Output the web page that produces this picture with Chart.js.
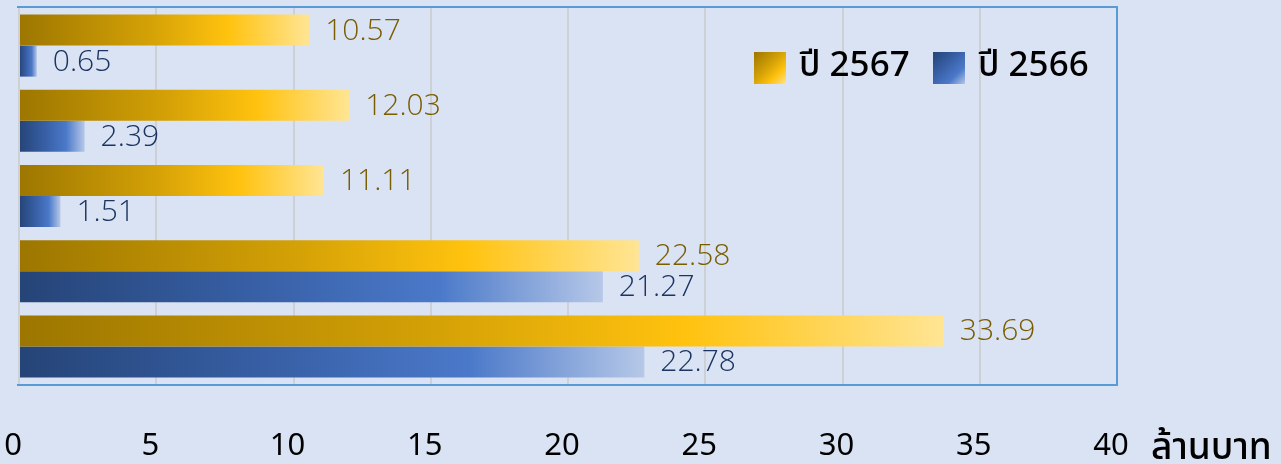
<!DOCTYPE html>
<html>
<head>
<meta charset="utf-8">
<script src="https://cdn.jsdelivr.net/npm/chart.js@4"></script>
<style>
  html, body { margin: 0; padding: 0; background: #dae3f3; }
  #wrap { position: relative; width: 1281px; height: 464px; }
</style>
</head>
<body>
<div id="wrap"><canvas id="myChart" width="1281" height="464"></canvas></div>
<script>
// Data (top category first)
const categories = ['รายการ 1', 'รายการ 2', 'รายการ 3', 'รายการ 4', 'รายการ 5'];
const year2567 = [10.57, 12.03, 11.11, 22.58, 33.69];
const year2566 = [0.65, 2.39, 1.51, 21.27, 22.78];
const seriesNames = ['ปี 2567', 'ปี 2566'];
const xTicks = [0, 5, 10, 15, 20, 25, 30, 35, 40];
const unitLabel = 'ล้านบาท';

const thaiFont = '"Noto Sans Thai", "Noto Sans", "Open Sans", sans-serif';

// colour stops for the bar gradients
const goldStops = [[0, '#9c7600'], [0.45, '#d4a106'], [0.72, '#ffc20e'], [1, '#ffe594']];
const blueStops = [[0, '#254477'], [0.45, '#3a63ab'], [0.72, '#4b79c9'], [1, '#b6c8e8']];

function barGradient(stops, fallback) {
    return (context) => {
        const chart = context.chart;
        const scale = chart.scales.x;
        if (!chart.chartArea || !scale || context.raw === undefined) return fallback;
        const x0 = scale.getPixelForValue(0);
        const x1 = scale.getPixelForValue(context.raw);
        if (x1 - x0 < 1) return fallback;
        const g = chart.ctx.createLinearGradient(x0, 0, x1, 0);
        stops.forEach(([p, c]) => g.addColorStop(p, c));
        return g;
    };
}

// value labels to the right of each bar
const valueLabels = {
    id: 'valueLabels',
    afterDatasetsDraw(chart) {
        const ctx = chart.ctx;
        const colors = ['#7a5c00', '#1b3461'];
        ctx.save();
        ctx.font = '300 30px "Open Sans", sans-serif';
        ctx.textBaseline = 'middle';
        ctx.textAlign = 'left';
        chart.data.datasets.forEach((ds, i) => {
            const meta = chart.getDatasetMeta(i);
            ctx.fillStyle = colors[i];
            meta.data.forEach((bar, j) => {
                ctx.fillText(ds.data[j].toFixed(2), bar.x + 16, bar.y + 1);
            });
        });
        ctx.restore();
    }
};

// plot frame, legend inside the plot and the unit label
const frameAndLegend = {
    id: 'frameAndLegend',
    afterDraw(chart) {
        const ctx = chart.ctx;
        const a = chart.chartArea;
        ctx.save();
        ctx.strokeStyle = '#5b9bd5';
        ctx.lineWidth = 2;
        ctx.beginPath();
        ctx.moveTo(a.left - 2, a.top - 1);
        ctx.lineTo(a.right, a.top - 1);
        ctx.lineTo(a.right, a.bottom + 1);
        ctx.lineTo(a.left - 2, a.bottom + 1);
        ctx.stroke();

        // legend
        const items = [
            { name: seriesNames[0], stops: goldStops, x: 754 },
            { name: seriesNames[1], stops: blueStops, x: 933 }
        ];
        ctx.font = '500 35px ' + thaiFont;
        ctx.textBaseline = 'alphabetic';
        ctx.textAlign = 'left';
        items.forEach((it) => {
            const y = 52, s = 32;
            const g = ctx.createLinearGradient(it.x, y, it.x + s, y + s);
            it.stops.forEach(([p, c]) => g.addColorStop(p, c));
            ctx.fillStyle = g;
            ctx.fillRect(it.x, y, s, s);
            ctx.fillStyle = '#000000';
            ctx.fillText(it.name, it.x + 45, 76);
        });

        // unit label
        ctx.font = '500 37px ' + thaiFont;
        ctx.fillStyle = '#000000';
        ctx.fillText(unitLabel, 1151, 459);
        ctx.restore();
    }
};

const ctx = document.getElementById('myChart').getContext('2d');
const myChart = new Chart(ctx, {
    type: 'bar',
    data: {
        labels: categories,
        datasets: [
            {
                label: seriesNames[0],
                data: year2567,
                backgroundColor: barGradient(goldStops, '#ffc000'),
                borderWidth: 0
            },
            {
                label: seriesNames[1],
                data: year2566,
                backgroundColor: barGradient(blueStops, '#4472c4'),
                borderWidth: 0
            }
        ]
    },
    options: {
        indexAxis: 'y',
        responsive: false,
        animation: false,
        layout: { padding: { left: 19, right: 164, top: 8, bottom: 0 } },
        datasets: {
            bar: { categoryPercentage: 0.825, barPercentage: 1 }
        },
        plugins: {
            legend: { display: false },
            tooltip: { enabled: false }
        },
        scales: {
            y: {
                display: false
            },
            x: {
                min: xTicks[0],
                max: xTicks[xTicks.length - 1],
                afterBuildTicks: (axis) => {
                    axis.ticks = xTicks.map((v) => ({ value: v }));
                },
                afterFit: (axis) => {
                    // keep the plot box where the reference has it
                    axis.height = 80;
                    axis.paddingLeft = 0;
                    axis.paddingRight = 0;
                },
                border: { display: false },
                grid: {
                    color: 'rgba(200, 200, 200, 0.7)',
                    lineWidth: 2,
                    drawTicks: false
                },
                ticks: {
                    padding: 44,
                    labelOffset: -6,
                    color: '#000000',
                    font: { family: '"Noto Sans", "Open Sans", sans-serif', size: 31 },
                    maxRotation: 0
                }
            }
        }
    },
    plugins: [valueLabels, frameAndLegend]
});
</script>
</body>
</html>
